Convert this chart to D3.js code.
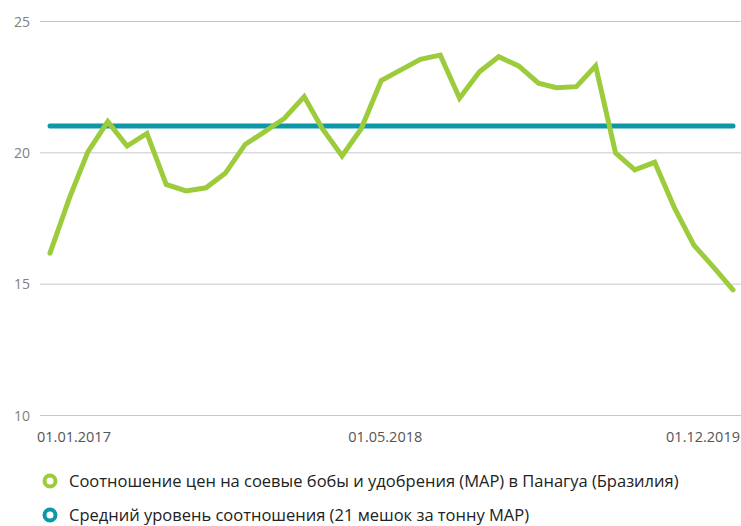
<!DOCTYPE html>
<html>
<head>
<meta charset="utf-8">
<script src="https://cdn.jsdelivr.net/npm/d3@7"></script>
<style>
  body { margin: 0; background: #fff; }
  svg { display: block; font-family: "Open Sans", sans-serif; }
</style>
</head>
<body>
<div id="chart"></div>
<script>
// monthly data, 01.2017 - 12.2019
var months = d3.range(36).map(function (i) { return new Date(2017, i, 1); });
var ratio = [16.16, 18.31, 20.02, 21.17, 20.24, 20.72, 18.78, 18.53, 18.65, 19.2, 20.3, 20.78,
             21.29, 22.12, 20.91, 19.86, 20.91, 22.73, 23.13, 23.54, 23.7, 22.06, 23.07, 23.64,
             23.29, 22.63, 22.46, 22.5, 23.29, 19.98, 19.33, 19.62, 17.87, 16.47, 15.62, 14.76];
var average = 21;
var yTicks = [10, 15, 20, 25];
var xTickDates = [new Date(2017, 0, 1), new Date(2018, 4, 1), new Date(2019, 11, 1)];
var legendLabels = [
    "Соотношение цен на соевые бобы и удобрения (MAP) в Панагуа (Бразилия)",
    "Средний уровень соотношения (21 мешок за тонну MAP)"
];

var green = "#9ccb3b";
var blue = "#0c98a8";

var w = 741;
var h = 526;

var svg = d3.select("#chart")
    .append("svg")
    .attr("width", w)
    .attr("height", h);

var x = d3.scaleTime()
    .domain([months[0], months[months.length - 1]])
    .range([50, 733]);

var y = d3.scaleLinear()
    .domain([10, 25])
    .range([415, 21]);

// grid lines
svg.selectAll("line.grid")
    .data(yTicks)
    .enter()
    .append("line")
    .attr("class", "grid")
    .attr("x1", 40)
    .attr("x2", w)
    .attr("y1", function (d) { return y(d) + 0.5; })
    .attr("y2", function (d) { return y(d) + 0.5; })
    .attr("stroke", "#c8c8c8")
    .attr("stroke-width", 1);

svg.selectAll("text.ytick")
    .data(yTicks)
    .enter()
    .append("text")
    .attr("class", "ytick")
    .text(function (d) { return d; })
    .attr("x", 30)
    .attr("y", function (d) { return y(d) + 5.5; })
    .attr("text-anchor", "end")
    .attr("fill", "#808080")
    .attr("font-size", "14px");

var fmt = d3.timeFormat("%d.%m.%Y");
var lastIdx = xTickDates.length - 1;
svg.selectAll("text.xtick")
    .data(xTickDates)
    .enter()
    .append("text")
    .attr("class", "xtick")
    .text(function (d) { return fmt(d); })
    .attr("x", function (d, i) { return i === lastIdx ? Math.min(x(d) + 12, w - 1) : x(d) - 13; })
    .attr("y", 442)
    .attr("text-anchor", function (d, i) { return i === lastIdx ? "end" : "start"; })
    .attr("fill", "#555")
    .attr("font-size", "14.5px");

// average line
svg.append("line")
    .attr("x1", x(months[0]))
    .attr("x2", x(months[months.length - 1]))
    .attr("y1", y(average))
    .attr("y2", y(average))
    .attr("stroke", blue)
    .attr("stroke-width", 5)
    .attr("stroke-linecap", "round");

var line = d3.line()
    .x(function (d, i) { return x(months[i]); })
    .y(function (d) { return y(d); });

svg.append("path")
    .datum(ratio)
    .attr("d", line)
    .attr("fill", "none")
    .attr("stroke", green)
    .attr("stroke-width", 5)
    .attr("stroke-linejoin", "miter")
    .attr("stroke-linecap", "round");

// legend
var legend = svg.selectAll("g.legend")
    .data(legendLabels)
    .enter()
    .append("g")
    .attr("class", "legend")
    .attr("transform", function (d, i) { return "translate(50," + (481 + i * 34) + ")"; });

legend.append("circle")
    .attr("r", 5.5)
    .attr("fill", "#fff")
    .attr("stroke", function (d, i) { return i === 0 ? green : blue; })
    .attr("stroke-width", 4);

legend.append("text")
    .text(function (d) { return d; })
    .attr("x", 19)
    .attr("y", 6)
    .attr("fill", "#222")
    .attr("font-size", "16.5px");
</script>
</body>
</html>
